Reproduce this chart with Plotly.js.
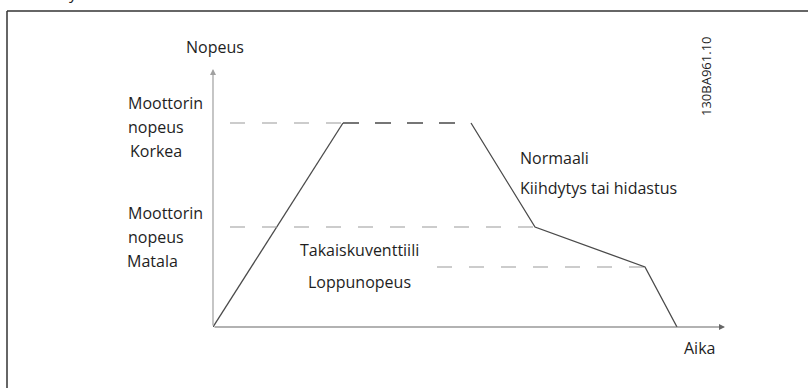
<!DOCTYPE html>
<html>
<head>
<meta charset="utf-8">
<script src="https://cdn.plot.ly/plotly-3.0.1.min.js"></script>
<style>
  html, body { margin: 0; padding: 0; background: #fff; }
  #chart { width: 808px; height: 388px; }
</style>
</head>
<body>
<div id="chart"></div>
<script>
// speed profile (time units, speed units)
var rampTime = [0, 13.0];
var rampSpeed = [0, 204];
var plateauTime = [13.0, 25.8];
var plateauSpeed = [204, 204];
var decelTime = [25.8, 32.2, 43.2, 46.4];
var decelSpeed = [204, 100, 60, 0];

// dashed reference levels
var highLevel = 204;
var lowLevel = 100;
var endLevel = 60;
var refStart = 1.7;
var endRefStart = 22.4;

var axisMaxTime = 51.2;
var axisMaxSpeed = 258;

// plot area in pixels
var L = 213, R = 725, T = 69, B = 327, W = 808, H = 388;
function px(x) { return (x - L) / (R - L); }
function py(y) { return (B - y) / (B - T); }

var curveColor = '#4a4a4a';
var dashColor = '#9a9a9a';
var textFont = { family: 'Open Sans, sans-serif', size: 16, color: '#1e1e1e' };

var data = [
  { x: rampTime, y: rampSpeed, mode: 'lines', line: { color: curveColor, width: 1.3 } },
  { x: [refStart, plateauTime[0]], y: [highLevel, highLevel], mode: 'lines',
    line: { color: dashColor, width: 1.2, dash: '15px,17px' } },
  { x: plateauTime, y: plateauSpeed, mode: 'lines',
    line: { color: curveColor, width: 1.3, dash: '16px,16px' } },
  { x: [refStart, decelTime[1]], y: [lowLevel, lowLevel], mode: 'lines',
    line: { color: dashColor, width: 1.2, dash: '15px,17px' } },
  { x: [endRefStart, decelTime[2]], y: [endLevel, endLevel], mode: 'lines',
    line: { color: dashColor, width: 1.2, dash: '15px,17px' } },
  { x: decelTime, y: decelSpeed, mode: 'lines', line: { color: curveColor, width: 1.3 } }
];

function label(text, x, y, anchor) {
  return { text: text, xref: 'paper', yref: 'paper', x: px(x), y: py(y),
    xanchor: anchor || 'left', yanchor: 'middle', showarrow: false, font: textFont };
}

var annotations = [
  // axes with arrowheads
  { xref: 'x', yref: 'y', axref: 'x', ayref: 'y', x: 0, y: axisMaxSpeed, ax: 0, ay: 0,
    showarrow: true, arrowhead: 2, arrowsize: 1, arrowwidth: 1.2, arrowcolor: '#a0a0a0', text: '' },
  { xref: 'x', yref: 'y', axref: 'x', ayref: 'y', x: axisMaxTime, y: 0, ax: 0, ay: 0,
    showarrow: true, arrowhead: 2, arrowsize: 1, arrowwidth: 1.2, arrowcolor: '#666', text: '' },
  label('Nopeus', 215, 47, 'center'),
  label('Aika', 699, 348, 'center'),
  label('Moottorin', 126, 103),
  label('nopeus', 126, 127),
  label('Korkea', 128, 151),
  label('Moottorin', 126, 213),
  label('nopeus', 126, 237),
  label('Matala', 125, 261),
  label('Takaiskuventtiili', 359, 250, 'center'),
  label('Loppunopeus', 359, 282, 'center'),
  label('Normaali', 518, 158),
  label('Kiihdytys tai hidastus', 518, 188),
  label('ehdä käytetä.', 8, -7, 'left'),
  { text: '130BA961.10', xref: 'paper', yref: 'paper', x: px(706), y: py(76),
    xanchor: 'center', yanchor: 'middle', textangle: -90, showarrow: false,
    font: { family: 'Open Sans, sans-serif', size: 13, color: '#1e1e1e' } }
];

var shapes = [
  { type: 'line', xref: 'paper', yref: 'paper', x0: px(7), y0: py(11), x1: px(812), y1: py(11),
    line: { color: '#333', width: 1.5 } },
  { type: 'line', xref: 'paper', yref: 'paper', x0: px(7), y0: py(11), x1: px(7), y1: py(392),
    line: { color: '#333', width: 1.5 } }
];

var layout = {
  width: W, height: H,
  margin: { l: L, r: W - R, t: T, b: H - B, pad: 0 },
  paper_bgcolor: '#fff', plot_bgcolor: '#fff',
  showlegend: false,
  xaxis: { range: [0, axisMaxTime], visible: false, fixedrange: true },
  yaxis: { range: [0, axisMaxSpeed], visible: false, fixedrange: true },
  annotations: annotations,
  shapes: shapes
};

Plotly.newPlot('chart', data, layout, { staticPlot: true, displayModeBar: false });
</script>
</body>
</html>
